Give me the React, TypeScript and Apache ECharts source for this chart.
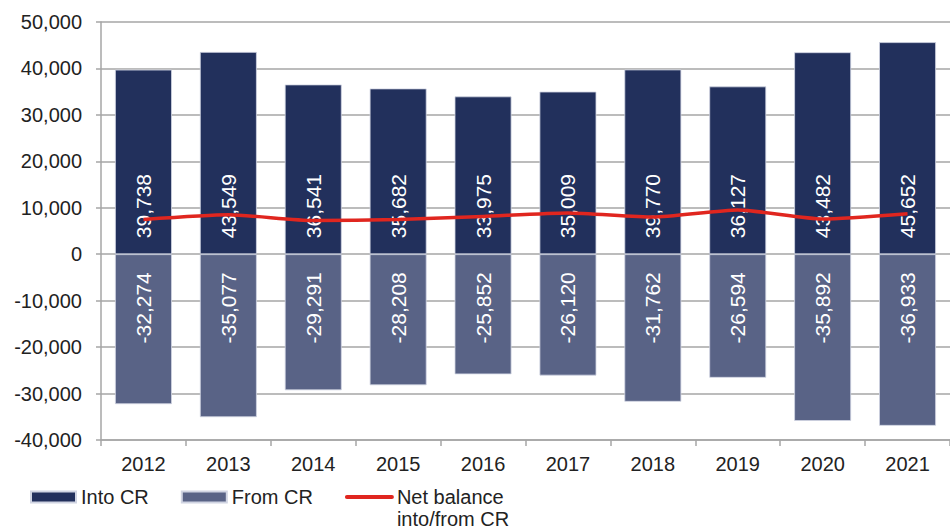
import React, { useEffect, useRef } from "react";
import * as echarts from "echarts";

const years = ["2012", "2013", "2014", "2015", "2016", "2017", "2018", "2019", "2020", "2021"];
const intoCR = [39738, 43549, 36541, 35682, 33975, 35009, 39770, 36127, 43482, 45652];
const fromCR = [-32274, -35077, -29291, -28208, -25852, -26120, -31762, -26594, -35892, -36933];
const netBalance = [7464, 8472, 7250, 7474, 8123, 8889, 8008, 9533, 7590, 8719];

const FONT = "'Liberation Sans', Arial, sans-serif";
const NET_NAME = "Net balance\ninto/from CR";
const fmt = (v: number) => {
  const s = Math.abs(v).toLocaleString("en-US");
  return (v < 0 ? "-" : "") + s;
};

export default function App() {
  const ref = useRef<HTMLDivElement>(null);
  useEffect(() => {
    const chart = echarts.init(ref.current!, null, { renderer: "svg" });
    chart.setOption({
      animation: false,
      textStyle: { fontFamily: FONT },
      grid: { left: 101, right: -4, top: 22, bottom: 91, containLabel: false },
      legend: {
        left: 30,
        top: 464,
        padding: 0,
        itemWidth: 45,
        itemHeight: 11,
        itemGap: 32,
        selectedMode: false,
        formatter: (name: string) => (name === NET_NAME ? "\u00a0\n" + name : name),
        textStyle: { fontFamily: FONT, fontSize: 20, color: "#222", lineHeight: 22 },
        data: [
          { name: "Into CR", icon: "rect" },
          { name: "From CR", icon: "rect" },
          {
            name: NET_NAME,
            itemStyle: { opacity: 0 },
            lineStyle: { color: "#e0261f", width: 4, cap: "round" },
          },
        ],
      },
      xAxis: {
        type: "category",
        data: years,
        axisLine: { onZero: false, lineStyle: { color: "#a6a6a6", width: 1.5 } },
        axisTick: { show: true, length: 6, alignWithLabel: false, lineStyle: { color: "#a6a6a6", width: 1.5 } },
        axisLabel: { fontFamily: FONT, fontSize: 20, color: "#222", margin: 14 },
      },
      yAxis: {
        type: "value",
        min: -40000,
        max: 50000,
        interval: 10000,
        axisLine: { show: true, lineStyle: { color: "#a6a6a6", width: 1.5 } },
        axisTick: { show: true, length: 5, lineStyle: { color: "#a6a6a6", width: 1.5 } },
        splitLine: { show: true, lineStyle: { color: "#a6a6a6", width: 1.5 } },
        axisLabel: {
          fontFamily: FONT,
          fontSize: 20,
          color: "#222",
          margin: 19,
          formatter: (v: number) => fmt(v),
        },
      },
      series: [
        {
          name: "Into CR",
          type: "bar",
          stack: "flows",
          barWidth: "67%",
          data: intoCR,
          itemStyle: { color: "#22305c", borderColor: "#d0d4e2", borderWidth: 0.8 },
          label: {
            show: true,
            position: "insideBottom",
            rotate: 90,
            align: "left",
            verticalAlign: "middle",
            distance: 16,
            color: "#ffffff",
            fontFamily: FONT,
            fontSize: 21,
            formatter: (p: any) => fmt(p.value),
          },
        },
        {
          name: "From CR",
          type: "bar",
          stack: "flows",
          barWidth: "67%",
          data: fromCR,
          itemStyle: { color: "#596386", borderColor: "#d0d4e2", borderWidth: 0.8 },
          label: {
            show: true,
            position: "insideTop",
            rotate: 90,
            align: "right",
            verticalAlign: "middle",
            distance: 18,
            color: "#ffffff",
            fontFamily: FONT,
            fontSize: 21,
            formatter: (p: any) => fmt(p.value),
          },
        },
        {
          name: NET_NAME,
          type: "line",
          data: netBalance,
          symbol: "none",
          smooth: 0.2,
          z: 5,
          itemStyle: { color: "#e0261f" },
          lineStyle: { color: "#e0261f", width: 3.5 },
        },
      ],
    });
    return () => chart.dispose();
  }, []);
  return (
    <div
      ref={ref}
      style={{ position: "absolute", left: 0, top: 0, width: 950, height: 531, background: "#fff" }}
    />
  );
}
